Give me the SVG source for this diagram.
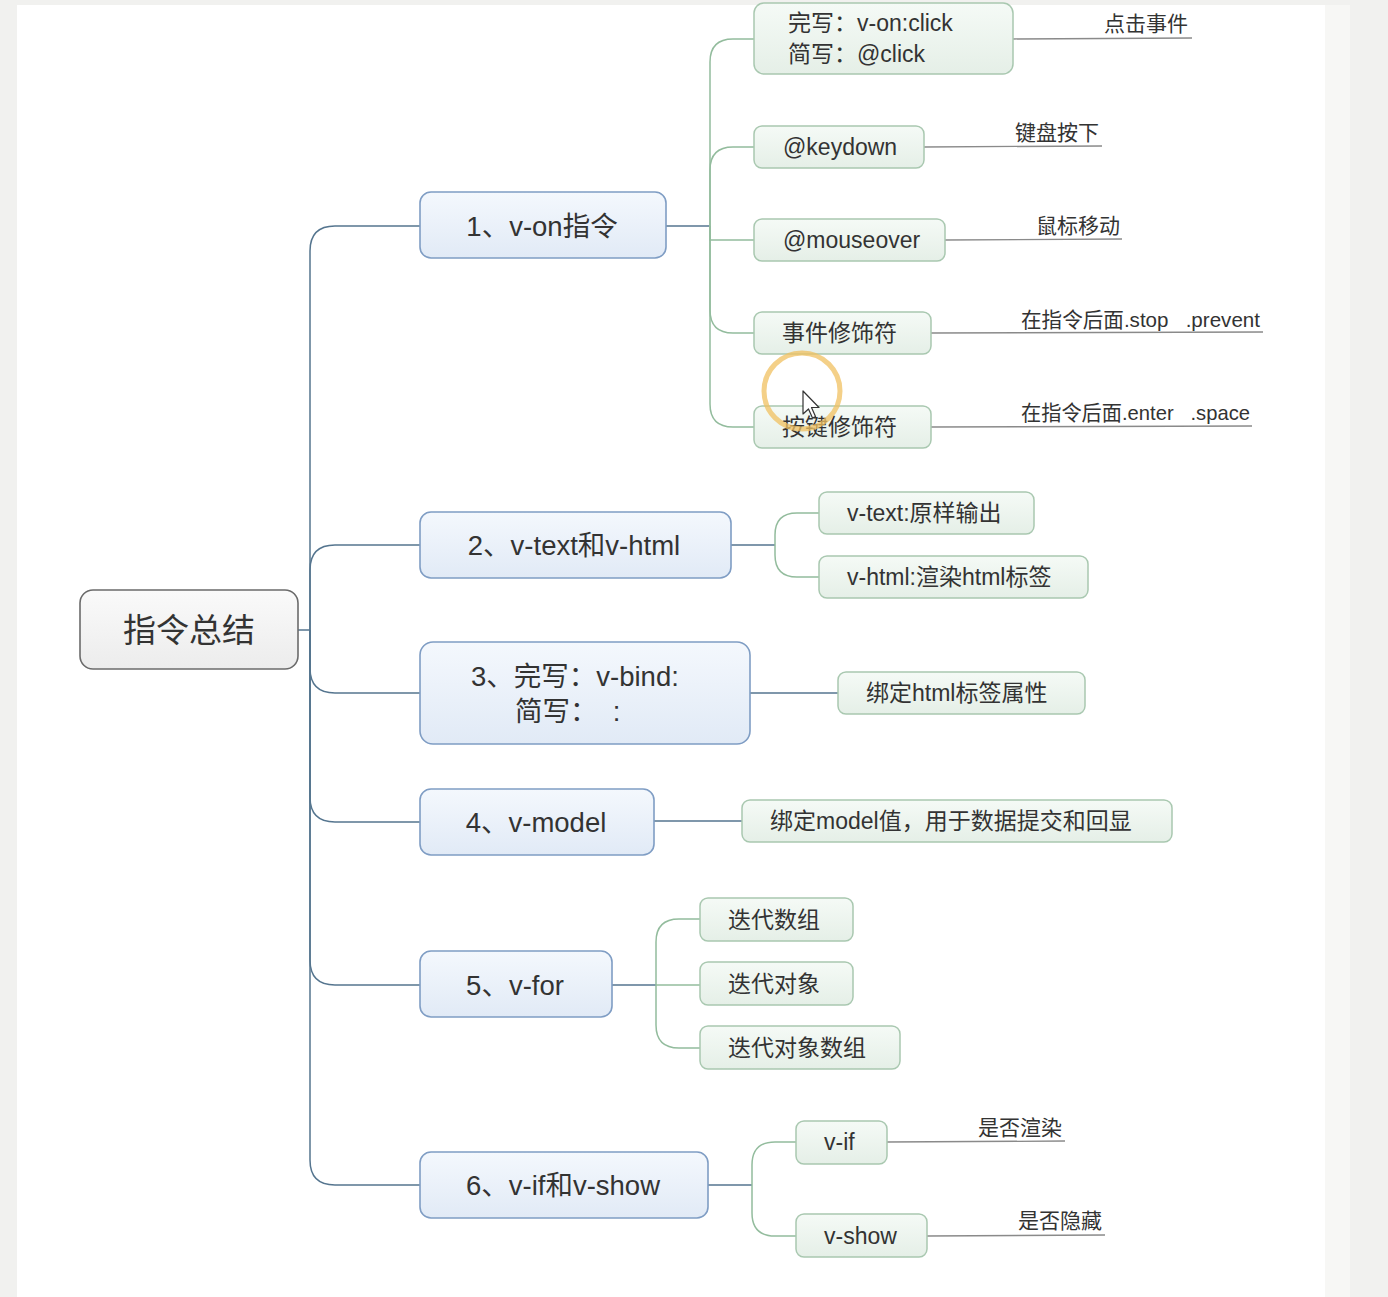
<svg xmlns="http://www.w3.org/2000/svg" width="1388" height="1297" viewBox="0 0 1388 1297">
<defs>
<linearGradient id="gBlue" x1="0" y1="0" x2="0" y2="1"><stop offset="0" stop-color="#f4f8fd"/><stop offset="1" stop-color="#e1eaf6"/></linearGradient>
<linearGradient id="gGreen" x1="0" y1="0" x2="0" y2="1"><stop offset="0" stop-color="#f5faf6"/><stop offset="1" stop-color="#e5efe7"/></linearGradient>
<linearGradient id="gRoot" x1="0" y1="0" x2="0" y2="1"><stop offset="0" stop-color="#fafafa"/><stop offset="1" stop-color="#ececec"/></linearGradient>
</defs>
<style>
text{font-family:"Liberation Sans","Noto Sans CJK SC",sans-serif;fill:#333;white-space:pre}
.root rect{fill:url(#gRoot);stroke:#6b6b6b;stroke-width:1.6}
.l1 rect{fill:url(#gBlue);stroke:#7f9dc4;stroke-width:1.6}
.l2 rect{fill:url(#gGreen);stroke:#a9c8b0;stroke-width:1.5}
.l1 text{font-size:27.5px}
.l2 text{font-size:23px}
.lab{font-size:21px}
.cb{fill:none;stroke:#55758f;stroke-width:1.5}
.cg{fill:none;stroke:#93bc9d;stroke-width:1.5}
.ul{fill:none;stroke:#8a8a8a;stroke-width:1.3}
</style>
<rect x="0" y="0" width="1388" height="1297" fill="#f1f1ef"/>
<rect x="1325" y="5" width="25" height="1292" fill="#f7f7f5"/>
<rect x="17" y="5" width="1308" height="1292" fill="#ffffff"/>

<g id="connectors">
<path class="cb" d="M298,630 L310,630"/>
<path class="cb" d="M310,630 L310,251 Q310,226 335,226 L420,226"/>
<path class="cb" d="M310,630 L310,570 Q310,545 335,545 L420,545"/>
<path class="cb" d="M310,630 L310,668 Q310,693 335,693 L420,693"/>
<path class="cb" d="M310,630 L310,797 Q310,822 335,822 L420,822"/>
<path class="cb" d="M310,630 L310,960 Q310,985 335,985 L420,985"/>
<path class="cb" d="M310,630 L310,1160 Q310,1185 335,1185 L420,1185"/>

<path class="cb" d="M666,226 L710,226"/>
<path class="cg" d="M710,226 L710,62 Q710,39 733,39 L754,39"/>
<path class="cg" d="M710,226 L710,170 Q710,147 733,147 L754,147"/>
<path class="cg" d="M710,226 L710,240 Q710,240 733,240 L754,240"/>
<path class="cg" d="M710,226 L710,310 Q710,333 733,333 L754,333"/>
<path class="cg" d="M710,226 L710,404 Q710,427 733,427 L754,427"/>

<path class="ul" d="M1013,39 L1192,38"/>
<path class="ul" d="M924,147 L1102,146"/>
<path class="ul" d="M945,240 L1122,239"/>
<path class="ul" d="M931,333 L1263,332"/>
<path class="ul" d="M931,427 L1252,426"/>

<path class="cb" d="M731,545 L775,545"/>
<path class="cg" d="M775,545 L775,535 Q775,513 797,513 L819,513"/>
<path class="cg" d="M775,545 L775,555 Q775,577 797,577 L819,577"/>

<path class="cb" d="M750,693 L838,693"/>
<path class="cb" d="M654,821 L742,821"/>

<path class="cb" d="M612,985 L656,985"/>
<path class="cg" d="M656,985 L656,942 Q656,919 679,919 L700,919"/>
<path class="cg" d="M656,985 L700,985"/>
<path class="cg" d="M656,985 L656,1025 Q656,1048 679,1048 L700,1048"/>

<path class="cb" d="M708,1185 L752,1185"/>
<path class="cg" d="M752,1185 L752,1165 Q752,1142 775,1142 L796,1142"/>
<path class="cg" d="M752,1185 L752,1213 Q752,1236 775,1236 L796,1236"/>
<path class="ul" d="M887,1142 L1065,1141"/>
<path class="ul" d="M927,1236 L1105,1235"/>
</g>

<g id="root" class="root"><rect x="80" y="590" width="218" height="79" rx="13"/><text x="189" y="642" text-anchor="middle" font-size="33">指令总结</text></g>

<g id="n1" class="l1"><rect x="420" y="192" width="246" height="66" rx="11"/><text x="542" y="236" text-anchor="middle">1、v-on指令</text></g>
<g id="n2" class="l1"><rect x="420" y="512" width="311" height="66" rx="11"/><text x="574" y="555" text-anchor="middle">2、v-text和v-html</text></g>
<g id="n3" class="l1"><rect x="420" y="642" width="330" height="102" rx="13"/><text x="471" y="686">3、完写：v-bind:</text><text x="515" y="721">简写：  :</text></g>
<g id="n4" class="l1"><rect x="420" y="789" width="234" height="66" rx="11"/><text x="536" y="832" text-anchor="middle">4、v-model</text></g>
<g id="n5" class="l1"><rect x="420" y="951" width="192" height="66" rx="11"/><text x="515" y="995" text-anchor="middle">5、v-for</text></g>
<g id="n6" class="l1"><rect x="420" y="1152" width="288" height="66" rx="11"/><text x="563" y="1195" text-anchor="middle">6、v-if和v-show</text></g>

<g id="n1a" class="l2"><rect x="754" y="3" width="259" height="71" rx="10"/><text x="788" y="31">完写：v-on:click</text><text x="788" y="62">简写：@click</text></g>
<g id="n1b" class="l2"><rect x="754" y="126" width="170" height="42" rx="8"/><text x="783" y="155">@keydown</text></g>
<g id="n1c" class="l2"><rect x="754" y="219" width="191" height="42" rx="8"/><text x="783" y="248">@mouseover</text></g>
<g id="n1d" class="l2"><rect x="754" y="312" width="177" height="42" rx="8"/><text x="782" y="341">事件修饰符</text></g>
<g id="n1e" class="l2"><rect x="754" y="406" width="177" height="42" rx="8"/><text x="782" y="435">按键修饰符</text></g>

<g id="lab1a"><text class="lab" x="1188" y="31" text-anchor="end">点击事件</text></g>
<g id="lab1b"><text class="lab" x="1099" y="140" text-anchor="end">键盘按下</text></g>
<g id="lab1c"><text class="lab" x="1120" y="233" text-anchor="end">鼠标移动</text></g>
<g id="lab1d"><text class="lab" x="1021" y="327" textLength="239" lengthAdjust="spacingAndGlyphs">在指令后面.stop   .prevent</text></g>
<g id="lab1e"><text class="lab" x="1021" y="420" textLength="229" lengthAdjust="spacingAndGlyphs">在指令后面.enter   .space</text></g>

<g id="n2a" class="l2"><rect x="819" y="492" width="215" height="42" rx="8"/><text x="847" y="521">v-text:原样输出</text></g>
<g id="n2b" class="l2"><rect x="819" y="556" width="269" height="42" rx="8"/><text x="847" y="585">v-html:渲染html标签</text></g>

<g id="n3a" class="l2"><rect x="838" y="672" width="247" height="42" rx="8"/><text x="866" y="701">绑定html标签属性</text></g>
<g id="n4a" class="l2"><rect x="742" y="800" width="430" height="42" rx="8"/><text x="770" y="829">绑定model值，用于数据提交和回显</text></g>

<g id="n5a" class="l2"><rect x="700" y="898" width="153" height="43" rx="8"/><text x="728" y="928">迭代数组</text></g>
<g id="n5b" class="l2"><rect x="700" y="962" width="153" height="43" rx="8"/><text x="728" y="992">迭代对象</text></g>
<g id="n5c" class="l2"><rect x="700" y="1026" width="200" height="43" rx="8"/><text x="728" y="1056">迭代对象数组</text></g>

<g id="n6a" class="l2"><rect x="796" y="1121" width="91" height="43" rx="8"/><text x="824" y="1150">v-if</text></g>
<g id="n6b" class="l2"><rect x="796" y="1214" width="131" height="43" rx="8"/><text x="824" y="1244">v-show</text></g>
<g id="lab6a"><text class="lab" x="1062" y="1135" text-anchor="end">是否渲染</text></g>
<g id="lab6b"><text class="lab" x="1102" y="1228" text-anchor="end">是否隐藏</text></g>

<circle cx="802" cy="391" r="38" fill="none" stroke="#f0c060" stroke-opacity="0.75" stroke-width="5"/>
<path d="M803,391 L803,414 L808.5,409 L812.5,418 L815.5,416.5 L811.5,407.5 L819,407.5 Z" fill="#ffffff" stroke="#333" stroke-width="1.2" stroke-linejoin="round"/>
</svg>
